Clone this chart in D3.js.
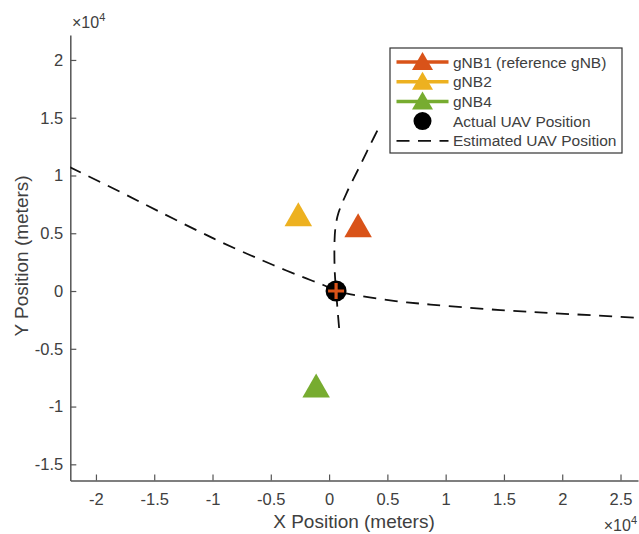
<!DOCTYPE html>
<html>
  <head>
    <meta charset="UTF-8">
    <script src="https://d3js.org/d3.v7.min.js"></script>
    <style>
      body{
        margin: 0;
        background: #fff;
      }
      text{
        font-family: "Liberation Sans", Arial, sans-serif;
        fill: #404040;
      }
    </style>
    <title>UAV position estimate</title>
  </head>
  <body>
    <svg id="plot" width="639" height="534"></svg>

    <script>
      // estimated UAV position, two branches (meters)
      const branchAX = [-22300, -17900, -14500, -11100, -9100, -6800, -4800, -2500, -500, 600, 2700, 5700, 8700, 14700, 20200, 26400, 27100];
      const branchAY = [10750, 8570, 6840, 5130, 4160, 3120, 2250, 1300, 520, 0, -430, -870, -1170, -1650, -1970, -2310, -2350];
      const branchBX = [860, 730, 600, 480, 470, 560, 800, 1500, 2600, 3520, 4450];
      const branchBY = [-3200, -1650, 0, 1820, 4420, 5600, 6750, 8480, 10740, 12640, 14500];

      // base stations and true UAV
      const gnbNames = ["gNB1 (reference gNB)", "gNB2", "gNB4"];
      const gnbX = [2490, -2640, -1110];
      const gnbY = [5690, 6650, -8180];
      const gnbColors = ["#D95319", "#EDB120", "#77AC30"];
      const uavX = [600];
      const uavY = [0];

      const legendLabels = ["gNB1 (reference gNB)", "gNB2", "gNB4", "Actual UAV Position", "Estimated UAV Position"];
      const xTicks = [-20000, -15000, -10000, -5000, 0, 5000, 10000, 15000, 20000, 25000];
      const yTicks = [-15000, -10000, -5000, 0, 5000, 10000, 15000, 20000];

      const svg = d3.select("svg#plot");
      const m = {"left": 70.3, "right": 638, "top": 35, "bottom": 480.5};

      const xScale = d3.scaleLinear().domain([-22200, 26500]).range([m.left, m.right]);
      const yScale = d3.scaleLinear().domain([-16400, 22160]).range([m.bottom, m.top]);
      const fmt = v => String(+(v / 1e4).toFixed(1));

      svg.append("defs").append("clipPath").attr("id", "area")
         .append("rect").attr("x", m.left).attr("y", m.top)
         .attr("width", m.right - m.left).attr("height", m.bottom - m.top);

      // axes (ticks point inward like matlab)
      let bottomAxis = d3.axisBottom(xScale).tickValues(xTicks).tickFormat(fmt)
                         .tickSizeInner(-6).tickSizeOuter(0).tickPadding(13);
      let gx = svg.append("g")
         .attr("transform", "translate(0," + m.bottom + ")")
         .call(bottomAxis);

      let leftAxis = d3.axisLeft(yScale).tickValues(yTicks).tickFormat(fmt)
                       .tickSizeInner(-6).tickSizeOuter(0).tickPadding(7);
      let gy = svg.append("g")
         .attr("transform", "translate(" + m.left + ",0)")
         .call(leftAxis);

      [gx, gy].forEach(g => {
        g.select(".domain").attr("stroke", "#555").attr("stroke-width", 1.5);
        g.selectAll(".tick line").attr("stroke", "#555").attr("stroke-width", 1.2);
        g.selectAll(".tick text").attr("fill", "#404040")
         .style("font-size", "16.5px").style("font-family", "Liberation Sans, Arial, sans-serif");
      });

      svg.append("text")
         .attr("x", 354).attr("y", 528)
         .attr("text-anchor", "middle")
         .style("font-size", "19px")
         .text("X Position (meters)");

      svg.append("text")
         .attr("transform", "translate(28,256) rotate(-90)")
         .attr("text-anchor", "middle")
         .style("font-size", "19px")
         .text("Y Position (meters)");

      // exponent labels
      let ey = svg.append("text").attr("x", 72).attr("y", 28).style("font-size", "16px");
      ey.append("tspan").text("\u00d710");
      ey.append("tspan").attr("dy", -7).style("font-size", "11px").text("4");

      let ex = svg.append("text").attr("x", 637).attr("y", 531)
                  .attr("text-anchor", "end").style("font-size", "16px");
      ex.append("tspan").text("\u00d710");
      ex.append("tspan").attr("dy", -7).style("font-size", "11px").text("4");

      // estimated position curves
      const line = d3.line()
                     .x(d => xScale(d[0]))
                     .y(d => yScale(d[1]))
                     .curve(d3.curveCatmullRom.alpha(0.5));

      let plotArea = svg.append("g").attr("clip-path", "url(#area)");
      [[branchAX, branchAY], [branchBX, branchBY]].forEach(b => {
        plotArea.append("path")
           .datum(b[0].map((x, i) => [x, b[1][i]]))
           .attr("d", line)
           .attr("fill", "none")
           .attr("stroke", "#111")
           .attr("stroke-width", 1.8)
           .attr("stroke-dasharray", "13,8.5");
      });

      function triangle(cx, cy, w, h){
        return "M" + (cx - w / 2) + "," + (cy + h / 2) +
               "L" + (cx + w / 2) + "," + (cy + h / 2) +
               "L" + cx + "," + (cy - h / 2) + "Z";
      }

      gnbX.forEach((x, i) => {
        svg.append("path")
           .attr("d", triangle(xScale(x), yScale(gnbY[i]), 27.5, 24))
           .attr("fill", gnbColors[i]);
      });

      uavX.forEach((x, i) => {
        let cx = xScale(x), cy = yScale(uavY[i]);
        svg.append("circle").attr("cx", cx).attr("cy", cy).attr("r", 10.5).attr("fill", "#000");
        svg.append("path")
           .attr("d", "M" + (cx - 8) + "," + cy + "H" + (cx + 8) + "M" + cx + "," + (cy - 8) + "V" + (cy + 8))
           .attr("stroke", "#D95319").attr("stroke-width", 3.2);
      });

      // legend
      const lx = 390, ly = 48, lw = 232, lh = 105;
      let legend = svg.append("g");
      legend.append("rect")
            .attr("x", lx).attr("y", ly).attr("width", lw).attr("height", lh)
            .attr("fill", "#fff").attr("stroke", "#333").attr("stroke-width", 1.2);

      legendLabels.forEach((label, i) => {
        let ry = 62 + i * 19.7;
        if(i < 3){
          legend.append("line")
                .attr("x1", 396.5).attr("x2", 448.5).attr("y1", ry).attr("y2", ry)
                .attr("stroke", gnbColors[i]).attr("stroke-width", 3.5);
          legend.append("path")
                .attr("d", triangle(422.5, ry - 1, 21, 18))
                .attr("fill", gnbColors[i]);
        }
        else if(i === 3){
          legend.append("circle").attr("cx", 422.5).attr("cy", ry).attr("r", 9).attr("fill", "#000");
        }
        else{
          legend.append("line")
                .attr("x1", 396.5).attr("x2", 448.5).attr("y1", ry).attr("y2", ry)
                .attr("stroke", "#111").attr("stroke-width", 1.8)
                .attr("stroke-dasharray", "13,8.5");
        }
        legend.append("text")
              .attr("x", 453).attr("y", ry + 5.5)
              .style("font-size", "15.5px")
              .text(label);
      });
    </script>
  </body>
</html>
